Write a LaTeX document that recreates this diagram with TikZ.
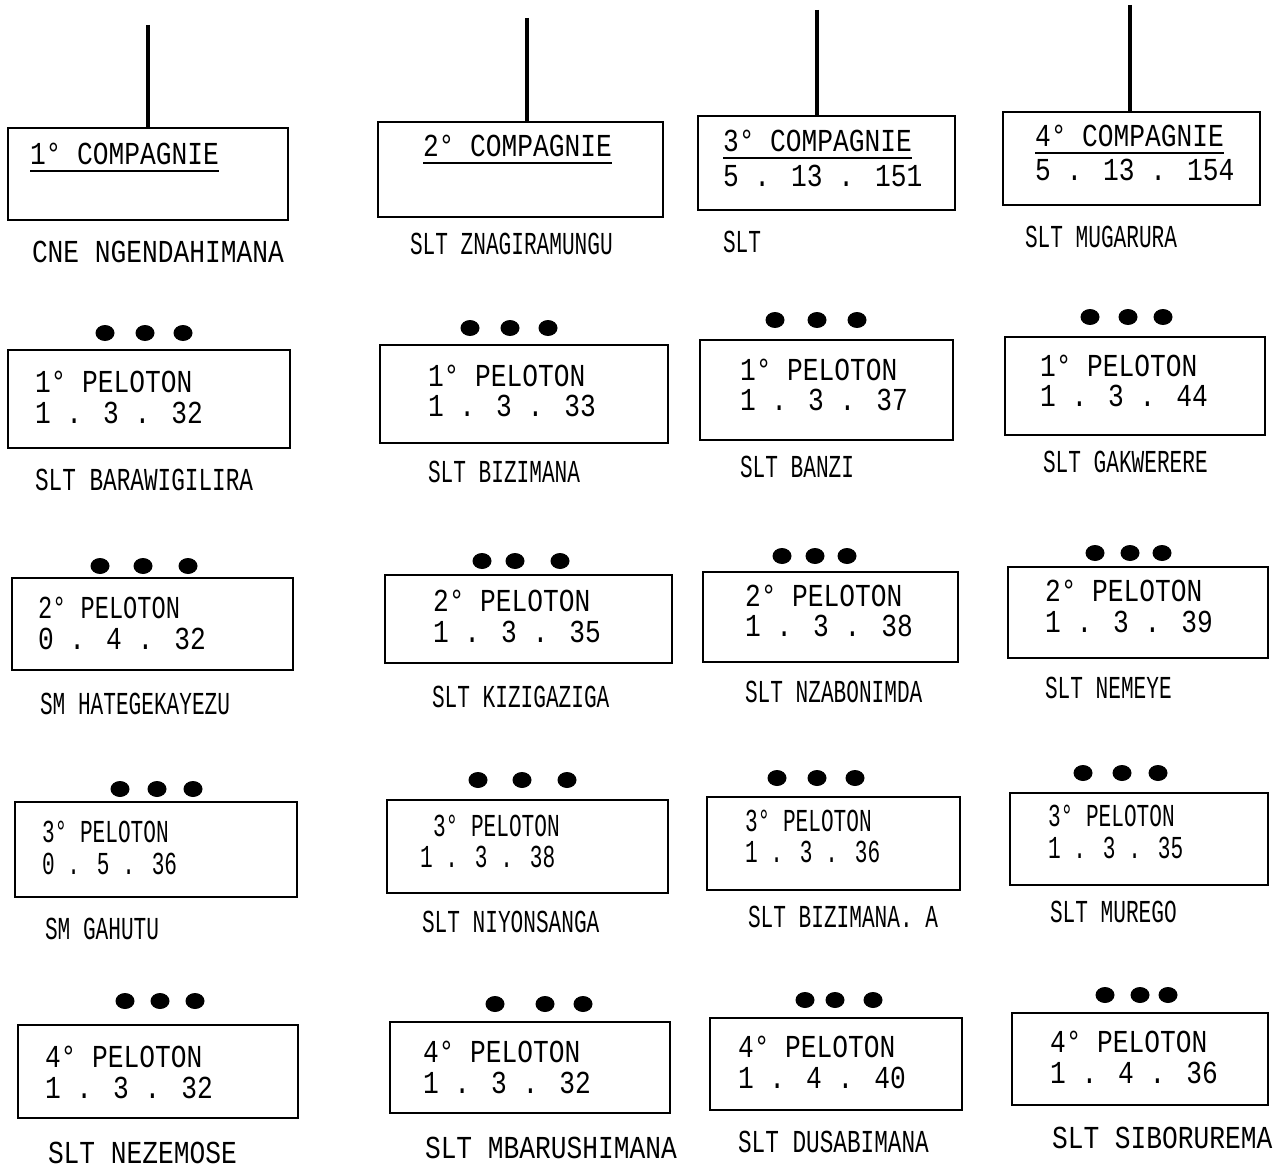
\documentclass[tikz,border=0pt]{standalone}
\usepackage{fontspec}
\usepackage{graphicx}
\usetikzlibrary{fit,shapes.geometric}
\newfontfamily\mono{Liberation Mono}
\newcommand\tw[2]{\scalebox{#1}[1]{\mono\fontsize{32pt}{34pt}\selectfont #2}}
\def\N{0.82}
\def\C{0.66}
\tikzset{
  boxst/.style={draw, line width=2.8pt, inner sep=0pt},
  conn/.style={line width=3.8pt},
  uline/.style={line width=1.8pt},
  dotst/.style={ellipse, fill=black, draw=none, minimum width=19pt, minimum height=16pt, inner sep=0pt},
  txtst/.style={anchor=base west, inner sep=0pt, outer sep=0pt},
}
\newcommand\pbox[5]{\node[boxst, fit={(#2,#3) (#4,#5)}] (#1) {};}
\newcommand\tridot[5]{\node[dotst] (#1a) at (#3,#2) {}; \node[dotst] (#1b) at (#4,#2) {}; \node[dotst] (#1c) at (#5,#2) {};}
\newcommand\txt[5]{\node[txtst] (#1) at (#2,{#3+10}) {\tw{#4}{#5}};}
\begin{document}
\begin{tikzpicture}[x=1pt, y=-1pt]
\useasboundingbox[fill=white] (0,0) rectangle (1287,1169);

% ---- Compagnies ----
\pbox{k1}{8}{128}{288}{220}
\pbox{k2}{378}{122}{663}{217}
\pbox{k3}{698}{116}{955}{210}
\pbox{k4}{1003}{112}{1260}{205}
\coordinate (t1) at (148,25);
\coordinate (t2) at (527,18);
\coordinate (t3) at (817,10);
\coordinate (t4) at (1130,5);
\draw[conn] (t1) -- (t1 |- k1.north);
\draw[conn] (t2) -- (t2 |- k2.north);
\draw[conn] (t3) -- (t3 |- k3.north);
\draw[conn] (t4) -- (t4 |- k4.north);

\txt{k1t}{30}{155}{\N}{1° COMPAGNIE}
\txt{k2t}{423}{147}{\N}{2° COMPAGNIE}
\txt{k3t}{723}{142}{\N}{3° COMPAGNIE}
\txt{k4t}{1035}{137}{\N}{4° COMPAGNIE}
\draw[uline] ([yshift=-6pt]k1t.base west) -- ([yshift=-6pt]k1t.base east);
\draw[uline] ([yshift=-6pt]k2t.base west) -- ([yshift=-6pt]k2t.base east);
\draw[uline] ([yshift=-6pt]k3t.base west) -- ([yshift=-6pt]k3t.base east);
\draw[uline] ([yshift=-6pt]k4t.base west) -- ([yshift=-6pt]k4t.base east);
\txt{k3n}{723}{176}{\N}{5 . 13 . 151}
\txt{k4n}{1035}{171}{\N}{5 . 13 . 154}

\txt{k1l}{32}{252}{\N}{CNE NGENDAHIMANA}
\txt{k2l}{410}{244}{\C}{SLT ZNAGIRAMUNGU}
\txt{k3l}{723}{242}{\C}{SLT}
\txt{k4l}{1025}{237}{\C}{SLT MUGARURA}

% ---- Row 1 ----
\pbox{a1}{8}{350}{290}{448}
\tridot{a1d}{333}{105}{145}{183}
\txt{a1t}{35}{382}{\N}{1° PELOTON}
\txt{a1n}{35}{413}{\N}{1 . 3 . 32}
\txt{a1l}{35}{480}{0.71}{SLT BARAWIGILIRA}

\pbox{b1}{380}{345}{668}{443}
\tridot{b1d}{328}{470}{510}{548}
\txt{b1t}{428}{376}{\N}{1° PELOTON}
\txt{b1n}{428}{406}{\N}{1 . 3 . 33}
\txt{b1l}{428}{472}{\C}{SLT BIZIMANA}

\pbox{c1}{700}{340}{953}{440}
\tridot{c1d}{320}{775}{817}{857}
\txt{c1t}{740}{370}{\N}{1° PELOTON}
\txt{c1n}{740}{400}{\N}{1 . 3 . 37}
\txt{c1l}{740}{467}{\C}{SLT BANZI}

\pbox{d1}{1005}{337}{1265}{435}
\tridot{d1d}{317}{1090}{1128}{1163}
\txt{d1t}{1040}{366}{\N}{1° PELOTON}
\txt{d1n}{1040}{396}{\N}{1 . 3 . 44}
\txt{d1l}{1043}{462}{\C}{SLT GAKWERERE}

% ---- Row 2 ----
\pbox{a2}{12}{578}{293}{670}
\tridot{a2d}{566}{100}{143}{188}
\txt{a2t}{38}{608}{0.74}{2° PELOTON}
\txt{a2n}{38}{639}{\N}{0 . 4 . 32}
\txt{a2l}{40}{704}{\C}{SM HATEGEKAYEZU}

\pbox{b2}{385}{575}{672}{663}
\tridot{b2d}{561}{482}{515}{560}
\txt{b2t}{433}{601}{\N}{2° PELOTON}
\txt{b2n}{433}{632}{\N}{1 . 3 . 35}
\txt{b2l}{432}{697}{\C}{SLT KIZIGAZIGA}

\pbox{c2}{703}{572}{958}{662}
\tridot{c2d}{556}{782}{815}{847}
\txt{c2t}{745}{596}{\N}{2° PELOTON}
\txt{c2n}{745}{626}{\N}{1 . 3 . 38}
\txt{c2l}{745}{692}{\C}{SLT NZABONIMDA}

\pbox{d2}{1008}{567}{1268}{658}
\tridot{d2d}{553}{1095}{1130}{1162}
\txt{d2t}{1045}{591}{\N}{2° PELOTON}
\txt{d2n}{1045}{622}{\N}{1 . 3 . 39}
\txt{d2l}{1045}{688}{\C}{SLT NEMEYE}

% ---- Row 3 ----
\pbox{a3}{15}{802}{297}{897}
\tridot{a3d}{789}{120}{157}{193}
\txt{a3t}{42}{832}{\C}{3° PELOTON}
\txt{a3n}{42}{864}{\C}{0 . 5 . 36}
\txt{a3l}{45}{929}{\C}{SM GAHUTU}

\pbox{b3}{387}{800}{668}{893}
\tridot{b3d}{780}{478}{522}{567}
\txt{b3t}{433}{826}{\C}{3° PELOTON}
\txt{b3n}{420}{857}{\C}{1 . 3 . 38}
\txt{b3l}{422}{922}{\C}{SLT NIYONSANGA}

\pbox{c3}{707}{797}{960}{890}
\tridot{c3d}{778}{777}{817}{855}
\txt{c3t}{745}{821}{\C}{3° PELOTON}
\txt{c3n}{745}{852}{\C}{1 . 3 . 36}
\txt{c3l}{748}{917}{\C}{SLT BIZIMANA. A}

\pbox{d3}{1010}{793}{1268}{885}
\tridot{d3d}{773}{1083}{1122}{1158}
\txt{d3t}{1048}{816}{\C}{3° PELOTON}
\txt{d3n}{1048}{848}{\C}{1 . 3 . 35}
\txt{d3l}{1050}{912}{\C}{SLT MUREGO}

% ---- Row 4 ----
\pbox{a4}{18}{1025}{298}{1118}
\tridot{a4d}{1001}{125}{160}{195}
\txt{a4t}{45}{1057}{\N}{4° PELOTON}
\txt{a4n}{45}{1088}{\N}{1 . 3 . 32}
\txt{a4l}{48}{1153}{\N}{SLT NEZEMOSE}

\pbox{b4}{390}{1022}{670}{1113}
\tridot{b4d}{1004}{495}{545}{583}
\txt{b4t}{423}{1052}{\N}{4° PELOTON}
\txt{b4n}{423}{1083}{\N}{1 . 3 . 32}
\txt{b4l}{425}{1148}{\N}{SLT MBARUSHIMANA}

\pbox{c4}{710}{1018}{962}{1110}
\tridot{c4d}{1000}{805}{835}{873}
\txt{c4t}{738}{1047}{\N}{4° PELOTON}
\txt{c4n}{738}{1078}{\N}{1 . 4 . 40}
\txt{c4l}{738}{1142}{0.71}{SLT DUSABIMANA}

\pbox{d4}{1012}{1013}{1268}{1105}
\tridot{d4d}{995}{1105}{1140}{1168}
\txt{d4t}{1050}{1042}{\N}{4° PELOTON}
\txt{d4n}{1050}{1073}{\N}{1 . 4 . 36}
\txt{d4l}{1052}{1138}{\N}{SLT SIBORUREMA}
\end{tikzpicture}
\end{document}
